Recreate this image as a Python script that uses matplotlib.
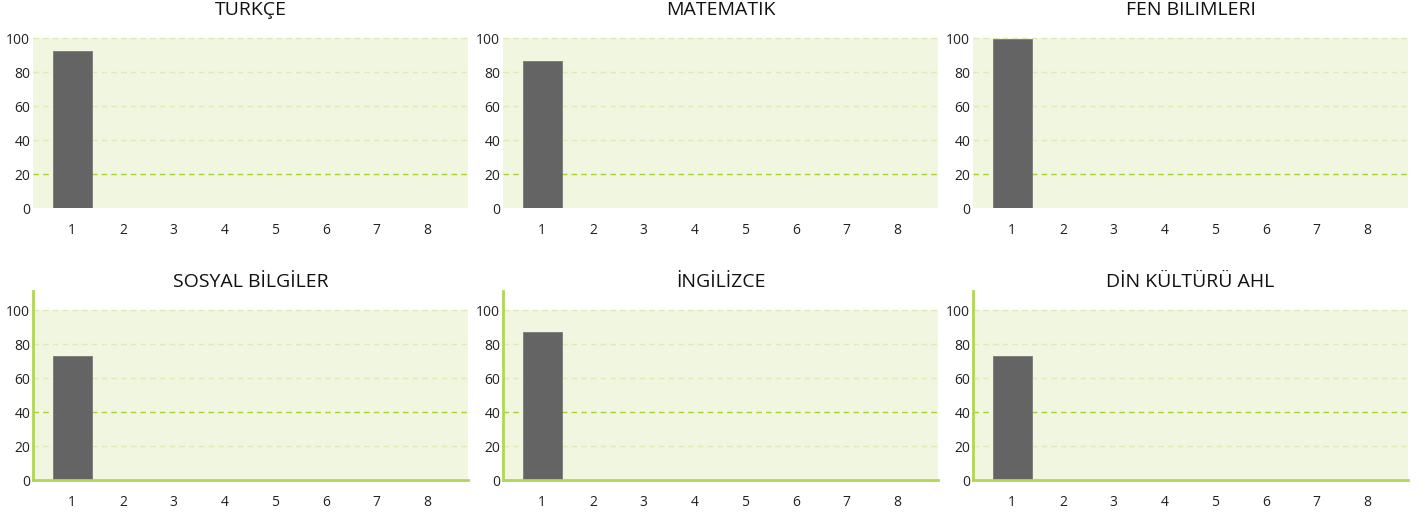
import matplotlib.pyplot as plt

# one bar (exam 1) per subject, exams 1..8 on the x axis
subjects = ['TÜRKÇE', 'MATEMATİK', 'FEN BİLİMLERİ',
            'SOSYAL BİLGİLER', 'İNGİLİZCE', 'DİN KÜLTÜRÜ AHL']
exams = [1, 2, 3, 4, 5, 6, 7, 8]
scores = [[92.4], [86.5], [99.4], [72.8], [87.0], [72.8]]
highlight = [20, 20, 20, 40, 40, 40]
y_ticks = [0, 20, 40, 60, 80, 100]

bg_color = '#f1f6e0'
grid_color = '#dcebb4'
mark_color = '#a8d232'
spine_color = '#b0d657'
bar_color = '#646464'

plt.rcParams['font.family'] = ['Open Sans', 'DejaVu Sans']

fig = plt.figure(figsize=(14.27, 5.18), dpi=100)

lefts = [33 / 1427, 503 / 1427, 973 / 1427]
bottoms = [310 / 518, 38 / 518]
width = 435 / 1427
height = 188.7 / 518

for i, name in enumerate(subjects):
    row, col = divmod(i, 3)
    ax = fig.add_axes([lefts[col], bottoms[row], width, height])

    ax.axhspan(0, 100, color=bg_color, lw=0, zorder=0)
    for y in y_ticks[1:]:
        c = mark_color if y == highlight[i] else grid_color
        ax.axhline(y, color=c, lw=1, ls=(0, (4, 3)), zorder=1)

    ax.bar(exams[:len(scores[i])], scores[i], width=0.77,
           color=bar_color, edgecolor='#7a7a7a', linewidth=0.6, zorder=2)

    ax.set_xlim(0.23, 8.8)
    ax.set_ylim(0, 111)
    ax.set_xticks(exams)
    ax.set_yticks(y_ticks)
    ax.tick_params(length=0, labelsize=10, colors='#222222')
    ax.tick_params(axis='x', pad=10.5)
    ax.tick_params(axis='y', pad=2)

    for s in ax.spines.values():
        s.set_visible(False)
    if row == 1:
        for side in ['left', 'bottom']:
            ax.spines[side].set_visible(True)
            ax.spines[side].set_color(spine_color)
            ax.spines[side].set_linewidth(2)

    ax.set_title(name, fontsize=14, color='#111111', pad=-2.5)

fig.savefig('out.png', dpi=100, facecolor='white')
